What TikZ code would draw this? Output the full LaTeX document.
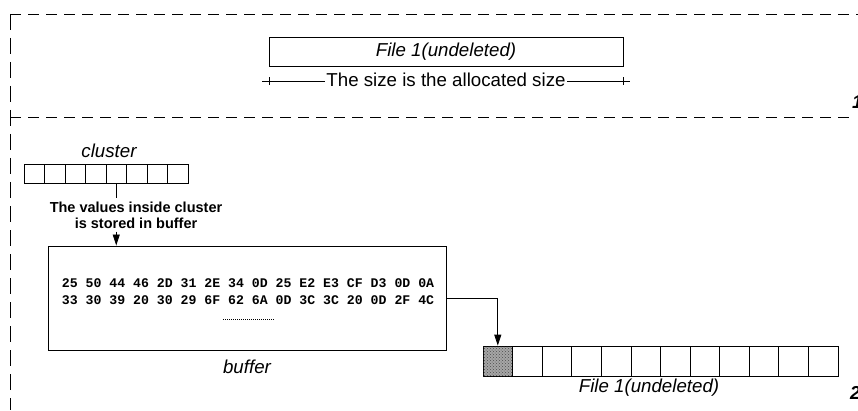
\documentclass[tikz,border=0pt]{standalone}
\usepackage{fontspec}
\setmainfont{Liberation Sans}
\setmonofont{Liberation Mono}
\usetikzlibrary{positioning, arrows.meta, patterns}
\tikzstyle{frameline} = [line width=0.8pt, dash pattern=on 11pt off 7pt]
\tikzstyle{filebox} = [rectangle, draw=black, line width=0.9pt, minimum width=354pt, minimum height=29pt, inner sep=0pt, text centered, font=\fontsize{18.7}{22}\selectfont\itshape]
\tikzstyle{cell} = [rectangle, draw=black, line width=0.8pt, minimum width=20.5pt, minimum height=19pt, inner sep=0pt]
\tikzstyle{block} = [rectangle, draw=black, line width=0.8pt, minimum width=29.58pt, minimum height=30pt, inner sep=0pt]
\tikzstyle{caption} = [font=\fontsize{18.7}{22}\selectfont\itshape, inner sep=1pt]
\tikzstyle{number} = [font=\fontsize{18.7}{22}\selectfont\bfseries\itshape, anchor=west, inner sep=0pt]
\tikzstyle{arrow} = [line width=0.8pt, -{Triangle[length=11pt, width=7pt]}]

\begin{document}
\begin{tikzpicture}[x=1pt, y=1pt]
        \useasboundingbox (0,0) rectangle (858,410);
        % Frames
        \draw [frameline] (10,396) -- (858,396);
        \draw [frameline] (10,293) -- (852,293);
        \draw [frameline, dash pattern=on 16pt off 8pt] (10,396) -- (10,0);

        % Nodes
        \node (file) [filebox] at (446,358) {File 1(undeleted)};
        \coordinate (tl) at (269,329);
        \coordinate (tr) at (623,329);
        \draw [line width=0.8pt] ([xshift=-7pt]tl) -- ([xshift=7pt]tr);
        \draw [line width=0.8pt] ([yshift=-4pt]tl) -- ([yshift=4pt]tl);
        \draw [line width=0.8pt] ([yshift=-4pt]tr) -- ([yshift=4pt]tr);
        \node (size) [fill=white, inner xsep=1pt, font=\fontsize{18.7}{22}\selectfont] at (446,330) {The size is the allocated size};
        \node (one) [number] at (852,308) {1};

        \foreach \i in {1,...,8}
            \node (c\i) [cell] at ({24+20.5*(\i-0.5)}, 236.5) {};
        \node (clusterlabel) [caption] at (109,259) {cluster};
        \node (note) [font=\fontsize{14.5}{16}\selectfont\bfseries, align=center, inner sep=3pt] at (136,195) {The values inside cluster\\is stored in buffer};

        \node (buffer) [rectangle, draw=black, line width=0.9pt, minimum width=398pt, minimum height=104pt] at (247,112) {};
        \node (hex) [font=\fontsize{13.2}{17}\selectfont\ttfamily\bfseries, align=center] at (248,118.5) {25 50 44 46 2D 31 2E 34 0D 25 E2 E3 CF D3 0D 0A\\33 30 39 20 30 29 6F 62 6A 0D 3C 3C 20 0D 2F 4C};
        \draw [line width=0.6pt, dash pattern=on 1pt off 1pt] (223,91) -- (275,91);
        \node (bufferlabel) [caption, below=8pt of buffer] {buffer};

        \node (f1) [block, fill=black!35, postaction={pattern=crosshatch dots, pattern color=black!70}] at (497.79,49) {};
        \foreach \i in {2,...,12}
            \node (f\i) [block] at ({483+29.58*(\i-0.5)}, 49) {};
        \node (filelabel) [caption] at (649,22) {File 1(undeleted)};
        \node (two) [number] at (850,17) {2};

        % Arrows
        \draw [line width=0.8pt] (c5.south) -- (c5.south |- note.north);
        \draw [arrow] (note.south -| c5.south) -- (buffer.north -| c5.south);
        \draw [arrow] (buffer.east) -| (f1.north);
    \end{tikzpicture}
\end{document}
